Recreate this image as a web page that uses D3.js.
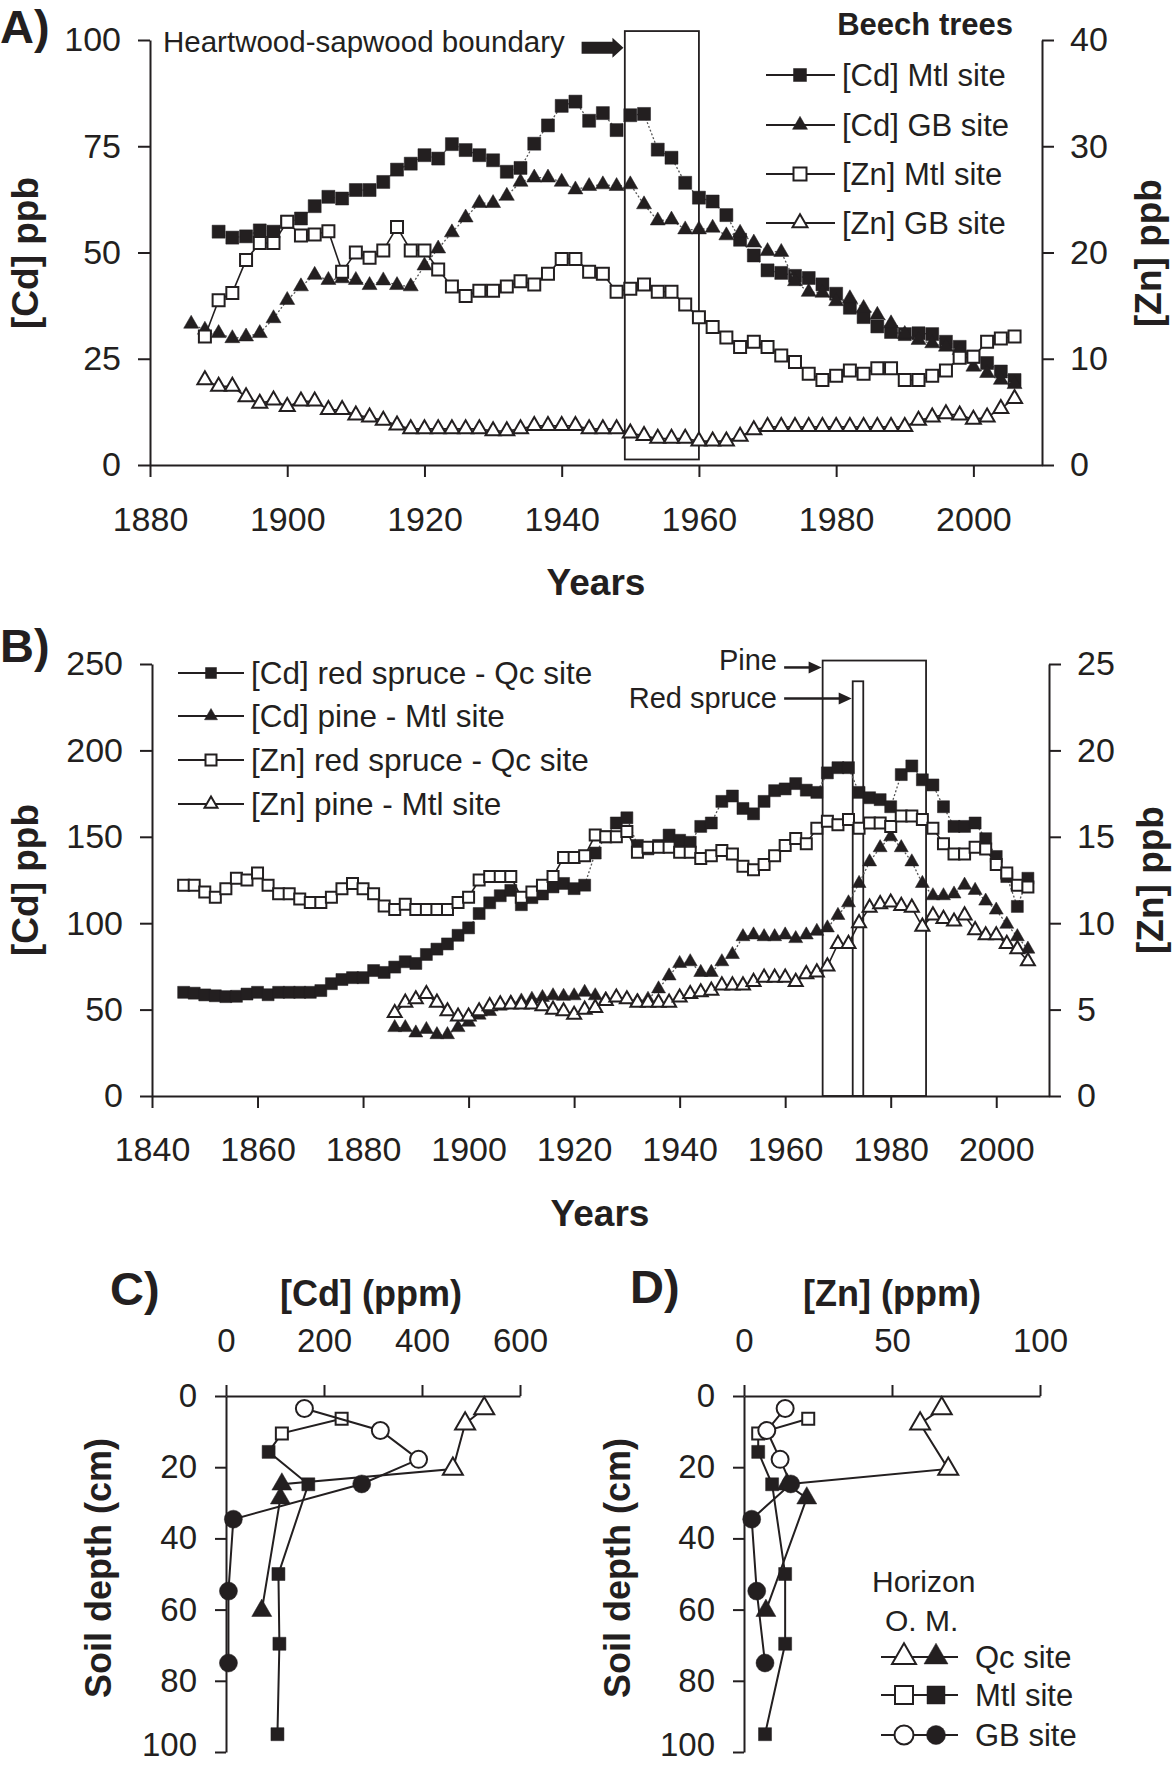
<!DOCTYPE html>
<html>
<head>
<meta charset="utf-8">
<script src="https://cdn.jsdelivr.net/npm/d3@7"></script>
<style>
  body { margin: 0; background: #fff; }
  svg { display: block; font-family: "Liberation Sans", Arial, Helvetica, sans-serif; }
</style>
</head>
<body>
<svg id="chart" width="1172" height="1766"></svg>
<script>
// ---- panel A: beech trees (every second year) ----
const years1886 = [1886,1888,1890,1892,1894,1896,1898,1900,1902,1904,
  1906,1908,1910,1912,1914,1916,1918,1920,1922,1924,
  1926,1928,1930,1932,1934,1936,1938,1940,1942,1944,
  1946,1948,1950,1952,1954,1956,1958,1960,1962,1964,
  1966,1968,1970,1972,1974,1976,1978,1980,1982,1984,
  1986,1988,1990,1992,1994,1996,1998,2000,2002,2004,2006];
const yearsA_cdGB = years1886;
const yearsA_zn = years1886.slice(1);     // 1888 onward
const yearsA_cdMtl = years1886.slice(2);  // 1890 onward

const cdMtlA = [54.9,53.5,53.8,55.2,54.9,57.2,58.0,60.9,63.1,62.7,
  64.7,64.7,66.6,69.5,70.9,72.9,72.1,75.5,74.1,72.9,
  71.7,69.0,69.9,75.6,79.9,84.5,85.5,81.0,82.8,78.8,
  82.3,82.6,74.2,72.3,66.4,62.9,62.0,58.8,53.0,49.3,
  45.8,45.2,44.5,44.0,42.5,40.3,37.0,34.8,32.6,31.3,
  30.8,31.0,30.8,29.0,27.8,25.5,24.0,22.0,20.0];
const cdGBA = [33.2,31.8,31.0,29.8,30.2,31.0,34.5,38.8,42.0,44.7,
  43.5,43.9,43.5,42.3,43.4,42.3,42.0,46.9,50.9,54.7,
  58.2,61.6,61.6,63.3,66.6,67.6,67.6,66.6,64.8,65.6,
  66.0,65.6,66.0,61.3,57.5,57.7,55.4,55.4,55.8,54.0,
  54.6,52.3,50.3,50.1,43.2,40.7,40.5,38.5,39.2,36.9,
  35.3,33.3,30.8,29.4,28.6,27.8,27.0,23.1,21.6,20.0,19.0];
const znMtlA = [12.1,15.5,16.2,19.3,20.9,20.9,22.9,21.6,21.7,22.0,
  18.2,20.0,19.5,20.2,22.4,20.2,20.2,18.4,16.8,15.9,
  16.4,16.4,16.8,17.3,17.0,18.0,19.4,19.4,18.2,18.0,
  16.3,16.6,17.0,16.3,16.3,15.1,13.9,13.0,12.0,11.1,
  11.6,11.1,10.3,9.7,8.6,8.0,8.4,8.9,8.6,9.1,
  9.1,8.0,8.0,8.4,8.9,10.1,10.2,11.6,11.9,12.1];
const znGBA = [8.0,7.4,7.4,6.4,5.8,6.1,5.5,6.0,6.0,5.2,
  5.2,4.7,4.5,4.2,3.75,3.4,3.4,3.4,3.4,3.4,
  3.4,3.2,3.2,3.4,3.7,3.7,3.7,3.7,3.4,3.4,
  3.4,3.0,2.75,2.5,2.5,2.5,2.25,2.25,2.25,2.7,
  3.3,3.6,3.6,3.6,3.6,3.6,3.6,3.6,3.6,3.6,
  3.6,3.6,4.2,4.5,4.8,4.7,4.3,4.5,5.3,6.25];

// ---- panel B: red spruce (Qc) and pine (Mtl) ----
const yearsB_spruce = [1846,1848,1850,1852,1854,1856,1858,1860,1862,1864,
  1866,1868,1870,1872,1874,1876,1878,1880,1882,1884].concat(years1886);
const yearsB_pine = years1886;
const cdSpruce = [60,59.5,58.5,58,57.5,57.7,59,60,58.6,60,
  60,60,60,61,65,67.4,68.5,68.5,72.6,71.5,
  74.6,77.7,76.7,81.9,85,88,93,97.3,105.6,111.8,
  115.9,119,110.7,114.8,116.9,121,123,120,122,140.6,
  150,158,161,145,143,145,151,148,146.8,156,
  158,170.5,173.6,166.4,163.3,170.5,176.7,177.7,180.8,177,
  175.7,187,190,190,175.7,172.6,171.5,167.4,186,191,
  183,180,167.4,156,156,158,148.9,138.6,127,109.7,126];
const cdPine = [39.6,39.6,36.5,38.5,35.5,35.5,39.6,42.7,46.8,48.9,
  52,54,55,56,57,58,57.7,58,60,58,
  56,57,56,55,56,62,69.5,76.7,77.7,71.5,
  71.5,77.7,81.9,92.2,93.2,92.2,92.2,93.2,91.1,93.2,
  95.3,97.3,104.5,111.8,123,135.5,143.7,150,143.7,135.5,
  123,115.9,115.9,116.9,122,119,112.8,107.6,99.4,92.2,85];
const znSpruce = [12.2,12.2,11.8,11.5,12.0,12.6,12.5,12.9,12.2,11.7,
  11.7,11.4,11.2,11.2,11.5,12.0,12.3,12.0,11.7,11.0,
  10.8,11.1,10.8,10.8,10.8,10.8,11.2,11.5,12.5,12.7,
  12.7,12.7,11.5,11.8,12.2,12.7,13.8,13.8,13.9,15.1,
  15.0,15.0,15.3,14.1,14.4,14.4,14.4,14.1,14.1,13.75,
  13.9,14.2,14.0,13.3,13.1,13.4,13.9,14.5,14.9,14.6,
  15.5,15.9,15.7,16.0,15.5,15.8,15.8,15.6,16.2,16.2,
  16.0,15.5,14.6,14.0,14.0,14.4,14.3,13.4,12.9,12.2,12.1];
const znPine = [4.8,5.4,5.6,5.9,5.4,4.9,4.6,4.6,4.9,5.2,
  5.3,5.3,5.3,5.3,5.2,5.0,4.9,4.7,5.0,5.1,
  5.5,5.7,5.6,5.4,5.4,5.4,5.4,5.7,5.9,6.0,
  6.1,6.4,6.4,6.4,6.6,6.85,6.85,6.85,6.6,7.05,
  7.15,7.5,8.8,8.8,10.0,10.9,11.1,11.2,11.0,10.9,
  9.8,10.45,10.25,10.1,10.45,9.6,9.3,9.3,8.8,8.5,7.8];

// ---- panels C and D: soil profiles (O = organic horizon, M = mineral) ----
const depthQcO = [3.5, 7.8, 20.5];
const depthQcM = [24.8, 28.7, 60.3];
const depthMtlO = [6.4, 10.5];
const depthMtlM = [15.7, 24.8, 50, 69.6, 95];
const depthGBO = [3.5, 9.7, 17.8];
const depthGBM = [24.7, 34.6, 54.8, 75];

const soilCdQcO = [527, 488, 463];
const soilCdQcM = [114, 111, 73];
const soilCdMtlO = [236, 114];
const soilCdMtlM = [87, 168, 107, 109, 105];
const soilCdGBO = [160, 315, 393];
const soilCdGBM = [277, 15, 5, 5];

const soilZnQcO = [66.8, 59.5, 69];
const soilZnQcM = [14.5, 21.2, 7.4];
const soilZnMtlO = [21.7, 4.8];
const soilZnMtlM = [4.8, 9.5, 13.9, 13.9, 7.1];
const soilZnGBO = [13.9, 7.7, 12.2];
const soilZnGBM = [15.8, 2.6, 4.3, 7.1];

// ---- ticks ----
const ticksYearA = [1880,1900,1920,1940,1960,1980,2000];
const ticksYearB = [1840,1860,1880,1900,1920,1940,1960,1980,2000];
const ticksCdA = [0,25,50,75,100];
const ticksZnA = [0,10,20,30,40];
const ticksCdB = [0,50,100,150,200,250];
const ticksZnB = [0,5,10,15,20,25];
const ticksSoilCd = [0,200,400,600];
const ticksSoilZn = [0,50,100];
const ticksDepth = [0,20,40,60,80,100];

const ink = '#231f20';
const svg = d3.select('#chart');
svg.append('rect').attr('width', 1172).attr('height', 1766).attr('fill', '#fff');

function styleAxis(g, fs) {
  g.attr('font-family', null).attr('font-size', fs);
  g.selectAll('path.domain').attr('stroke', ink).attr('stroke-width', 2);
  g.selectAll('.tick line').attr('stroke', ink).attr('stroke-width', 2);
  g.selectAll('.tick text').attr('fill', ink);
}

function sym(shape, size) {
  // size given as width of the marker in px
  if (shape === 'square') return d3.symbol(d3.symbolSquare, size * size)();
  if (shape === 'circle') return d3.symbol(d3.symbolCircle, Math.PI * size * size / 4)();
  return d3.symbol(d3.symbolTriangle, Math.sqrt(3) / 4 * size * size)();
}

function marker(g, shape, filled, size, px, py) {
  g.append('path')
    .attr('d', sym(shape, size))
    .attr('transform', `translate(${px},${py})`)
    .attr('fill', filled ? ink : '#fff')
    .attr('stroke', ink)
    .attr('stroke-width', filled ? 0.5 : 2);
}

function timeSeries(g, xs, vals, x, y, s) {
  const line = d3.line().x((d, i) => x(xs[i])).y(d => y(d));
  g.append('path').datum(vals).attr('d', line)
    .attr('fill', 'none')
    .attr('stroke', s.filled ? '#555' : ink)
    .attr('stroke-width', s.filled ? 1.3 : 1.6)
    .attr('stroke-dasharray', s.filled ? '2,2' : null);
  g.selectAll(null).data(vals).enter().append('path')
    .attr('d', sym(s.shape, s.size))
    .attr('transform', (d, i) => `translate(${x(xs[i])},${y(d)})`)
    .attr('fill', s.filled ? ink : '#fff')
    .attr('stroke', ink)
    .attr('stroke-width', s.filled ? 0.5 : 2);
}

function label(text, px, py, opt = {}) {
  const t = svg.append('text').text(text)
    .attr('x', px).attr('y', py)
    .attr('fill', ink)
    .attr('font-size', opt.size || 33)
    .attr('font-weight', opt.bold ? 'bold' : null)
    .attr('text-anchor', opt.anchor || 'start');
  if (opt.rotate) {
    t.attr('x', 0).attr('y', 0).attr('dy', '0.35em')
      .attr('transform', `translate(${px},${py}) rotate(-90)`);
  }
  return t;
}

function legendRow(g, x0, x1, mx, ty, text, shape, filled, size, fs) {
  g.append('line').attr('x1', x0).attr('x2', x1).attr('y1', ty).attr('y2', ty)
    .attr('stroke', ink).attr('stroke-width', 2);
  marker(g, shape, filled, size, mx, ty);
  g.append('text').text(text).attr('x', x1 + 7).attr('y', ty).attr('dy', '0.35em')
    .attr('font-size', fs).attr('fill', ink);
}

function arrow(g, x0, x1, yy) {
  g.append('line').attr('x1', x0).attr('x2', x1 - 10).attr('y1', yy).attr('y2', yy)
    .attr('stroke', ink).attr('stroke-width', 2.5);
  g.append('path').attr('d', `M${x1},${yy}L${x1 - 13},${yy - 6}L${x1 - 13},${yy + 6}Z`).attr('fill', ink);
}

// =================== Panel A ===================
const xA = d3.scaleLinear().domain([1880, 2010]).range([150, 1042]);
const yA = d3.scaleLinear().domain([0, 100]).range([465, 40]);
const yAz = d3.scaleLinear().domain([0, 40]).range([465, 40]);
const gA = svg.append('g');

gA.append('g').attr('transform', 'translate(0,465)')
  .call(d3.axisBottom(xA).tickValues(ticksYearA).tickFormat(d3.format('d'))
    .tickSize(12).tickSizeOuter(0).tickPadding(30))
  .call(g => styleAxis(g, 34));
gA.append('g').attr('transform', 'translate(150,0)')
  .call(d3.axisLeft(yA).tickValues(ticksCdA).tickSize(12).tickSizeOuter(0).tickPadding(17))
  .call(g => styleAxis(g, 34));
gA.append('g').attr('transform', 'translate(1042,0)')
  .call(d3.axisRight(yAz).tickValues(ticksZnA).tickSize(12).tickSizeOuter(0).tickPadding(16))
  .call(g => styleAxis(g, 34));

// heartwood-sapwood box
gA.append('rect')
  .attr('x', xA(1949.2)).attr('y', yA(102.1))
  .attr('width', xA(1960) - xA(1949.2)).attr('height', yA(1.3) - yA(102.1))
  .attr('fill', 'none').attr('stroke', ink).attr('stroke-width', 1.8);
{
  const ax0 = xA(1942.9), ax1 = xA(1949), ay = yA(98.2);
  gA.append('path')
    .attr('d', `M${ax0},${ay - 6}L${ax1 - 11},${ay - 6}L${ax1 - 11},${ay - 10}L${ax1},${ay}L${ax1 - 11},${ay + 10}L${ax1 - 11},${ay + 6}L${ax0},${ay + 6}Z`)
    .attr('fill', ink);
}
label('Heartwood-sapwood boundary', 163, 52, { size: 29.5 });

timeSeries(gA, yearsA_cdMtl, cdMtlA, xA, yA, { shape: 'square', filled: true, size: 13 });
timeSeries(gA, yearsA_cdGB, cdGBA, xA, yA, { shape: 'triangle', filled: true, size: 15 });
timeSeries(gA, yearsA_zn, znMtlA, xA, yAz, { shape: 'square', filled: false, size: 12 });
timeSeries(gA, yearsA_zn, znGBA, xA, yAz, { shape: 'triangle', filled: false, size: 15 });

label('Beech trees', 1013, 35, { size: 31, bold: true, anchor: 'end' });
const legA = gA.append('g');
legendRow(legA, 766, 835, 800, 75, '[Cd] Mtl site', 'square', true, 13, 31);
legendRow(legA, 766, 835, 800, 125, '[Cd] GB site', 'triangle', true, 15, 31);
legendRow(legA, 766, 835, 800, 174, '[Zn] Mtl site', 'square', false, 13, 31);
legendRow(legA, 766, 835, 800, 223, '[Zn] GB site', 'triangle', false, 15, 31);

label('A)', 0, 43, { size: 47, bold: true });
label('Years', 596, 595, { size: 37, bold: true, anchor: 'middle' });
label('[Cd] ppb', 25, 253, { size: 37, bold: true, anchor: 'middle', rotate: true });
label('[Zn] ppb', 1148, 253, { size: 37, bold: true, anchor: 'middle', rotate: true });

// =================== Panel B ===================
const xB = d3.scaleLinear().domain([1840, 2010]).range([152, 1049]);
const yB = d3.scaleLinear().domain([0, 250]).range([1096, 664]);
const yBz = d3.scaleLinear().domain([0, 25]).range([1096, 664]);
const gB = svg.append('g');

gB.append('g').attr('transform', 'translate(0,1096)')
  .call(d3.axisBottom(xB).tickValues(ticksYearB).tickFormat(d3.format('d'))
    .tickSize(12).tickSizeOuter(0).tickPadding(29))
  .call(g => styleAxis(g, 34));
gB.append('g').attr('transform', 'translate(152,0)')
  .call(d3.axisLeft(yB).tickValues(ticksCdB).tickSize(12).tickSizeOuter(0).tickPadding(17))
  .call(g => styleAxis(g, 34));
gB.append('g').attr('transform', 'translate(1049,0)')
  .call(d3.axisRight(yBz).tickValues(ticksZnB).tickSize(12).tickSizeOuter(0).tickPadding(16))
  .call(g => styleAxis(g, 34));

// heartwood-sapwood boxes
gB.append('rect')
  .attr('x', xB(1967.1)).attr('y', yB(252))
  .attr('width', xB(1986.7) - xB(1967.1)).attr('height', yB(0) - yB(252))
  .attr('fill', 'none').attr('stroke', ink).attr('stroke-width', 1.8);
gB.append('rect')
  .attr('x', xB(1972.8)).attr('y', yB(240))
  .attr('width', xB(1974.8) - xB(1972.8)).attr('height', yB(0) - yB(240))
  .attr('fill', 'none').attr('stroke', ink).attr('stroke-width', 1.8);
arrow(gB, xB(1959.8), xB(1967.1) - 1, yB(248));
arrow(gB, xB(1959.8), xB(1972.8) - 1, yB(230));
label('Pine', 777, 670, { size: 29, anchor: 'end' });
label('Red spruce', 777, 708, { size: 29, anchor: 'end' });

timeSeries(gB, yearsB_spruce, cdSpruce, xB, yB, { shape: 'square', filled: true, size: 12 });
timeSeries(gB, yearsB_pine, cdPine, xB, yB, { shape: 'triangle', filled: true, size: 14 });
timeSeries(gB, yearsB_spruce, znSpruce, xB, yBz, { shape: 'square', filled: false, size: 11 });
timeSeries(gB, yearsB_pine, znPine, xB, yBz, { shape: 'triangle', filled: false, size: 14 });

const legB = gB.append('g');
legendRow(legB, 178, 244, 211, 673, '[Cd] red spruce - Qc site', 'square', true, 11, 31.5);
legendRow(legB, 178, 244, 211, 716, '[Cd] pine - Mtl site', 'triangle', true, 13, 31.5);
legendRow(legB, 178, 244, 211, 760, '[Zn] red spruce - Qc site', 'square', false, 11, 31.5);
legendRow(legB, 178, 244, 211, 804, '[Zn] pine - Mtl site', 'triangle', false, 13, 31.5);

label('B)', 0, 662, { size: 47, bold: true });
label('Years', 600, 1226, { size: 37, bold: true, anchor: 'middle' });
label('[Cd] ppb', 25, 880, { size: 37, bold: true, anchor: 'middle', rotate: true });
label('[Zn] ppb', 1150, 880, { size: 37, bold: true, anchor: 'middle', rotate: true });

// =================== Panels C and D ===================
const yS = d3.scaleLinear().domain([0, 100]).range([1396, 1752]);
const xC = d3.scaleLinear().domain([0, 600]).range([226, 520]);
const xD = d3.scaleLinear().domain([0, 100]).range([744, 1040]);

function soilPanel(x, ticks) {
  const g = svg.append('g');
  g.append('g').attr('transform', 'translate(0,1396)')
    .call(d3.axisTop(x).tickValues(ticks).tickSize(11).tickSizeOuter(0).tickPadding(33))
    .call(a => styleAxis(a, 33));
  g.append('g').attr('transform', `translate(${x.range()[0]},0)`)
    .call(d3.axisLeft(yS).tickValues(ticksDepth).tickSize(11).tickSizeOuter(0).tickPadding(18))
    .call(a => styleAxis(a, 33))
    // keep the bottom label inside the picture
    .call(a => a.selectAll('.tick text').filter(d => d === 100).attr('dy', '0.12em'));
  return g;
}

function soilSite(g, x, valsO, depO, valsM, depM, shape, sizeO, sizeM) {
  const pts = valsO.map((v, i) => [x(v), yS(depO[i])])
    .concat(valsM.map((v, i) => [x(v), yS(depM[i])]));
  g.append('path').attr('d', d3.line()(pts))
    .attr('fill', 'none').attr('stroke', ink).attr('stroke-width', 2);
  valsO.forEach((v, i) => marker(g, shape, false, sizeO, x(v), yS(depO[i])));
  valsM.forEach((v, i) => marker(g, shape, true, sizeM, x(v), yS(depM[i])));
}

const gC = soilPanel(xC, ticksSoilCd);
soilSite(gC, xC, soilCdQcO, depthQcO, soilCdQcM, depthQcM, 'triangle', 20, 20);
soilSite(gC, xC, soilCdMtlO, depthMtlO, soilCdMtlM, depthMtlM, 'square', 12, 13);
soilSite(gC, xC, soilCdGBO, depthGBO, soilCdGBM, depthGBM, 'circle', 17, 18);

const gD = soilPanel(xD, ticksSoilZn);
soilSite(gD, xD, soilZnQcO, depthQcO, soilZnQcM, depthQcM, 'triangle', 20, 20);
soilSite(gD, xD, soilZnMtlO, depthMtlO, soilZnMtlM, depthMtlM, 'square', 12, 13);
soilSite(gD, xD, soilZnGBO, depthGBO, soilZnGBM, depthGBM, 'circle', 17, 18);

label('C)', 110, 1305, { size: 47, bold: true });
label('[Cd] (ppm)', 371, 1306, { size: 36, bold: true, anchor: 'middle' });
label('Soil depth (cm)', 98, 1568, { size: 36, bold: true, anchor: 'middle', rotate: true });
label('D)', 630, 1303, { size: 47, bold: true });
label('[Zn] (ppm)', 892, 1306, { size: 36, bold: true, anchor: 'middle' });
label('Soil depth (cm)', 617, 1568, { size: 36, bold: true, anchor: 'middle', rotate: true });

// legend for soil panels
label('Horizon', 872, 1592, { size: 30 });
label('O. M.', 885, 1631, { size: 30 });
const legD = svg.append('g');
[['Qc site', 'triangle', 1657, 24], ['Mtl site', 'square', 1695, 18], ['GB site', 'circle', 1735, 19]]
  .forEach(([t, shape, ty, sz]) => {
    legD.append('line').attr('x1', 881).attr('x2', 958).attr('y1', ty).attr('y2', ty)
      .attr('stroke', ink).attr('stroke-width', 2);
    marker(legD, shape, false, sz, 904, ty);
    marker(legD, shape, true, sz, 936, ty);
    legD.append('text').text(t).attr('x', 975).attr('y', ty).attr('dy', '0.35em')
      .attr('font-size', 31).attr('fill', ink);
  });
</script>
</body>
</html>
